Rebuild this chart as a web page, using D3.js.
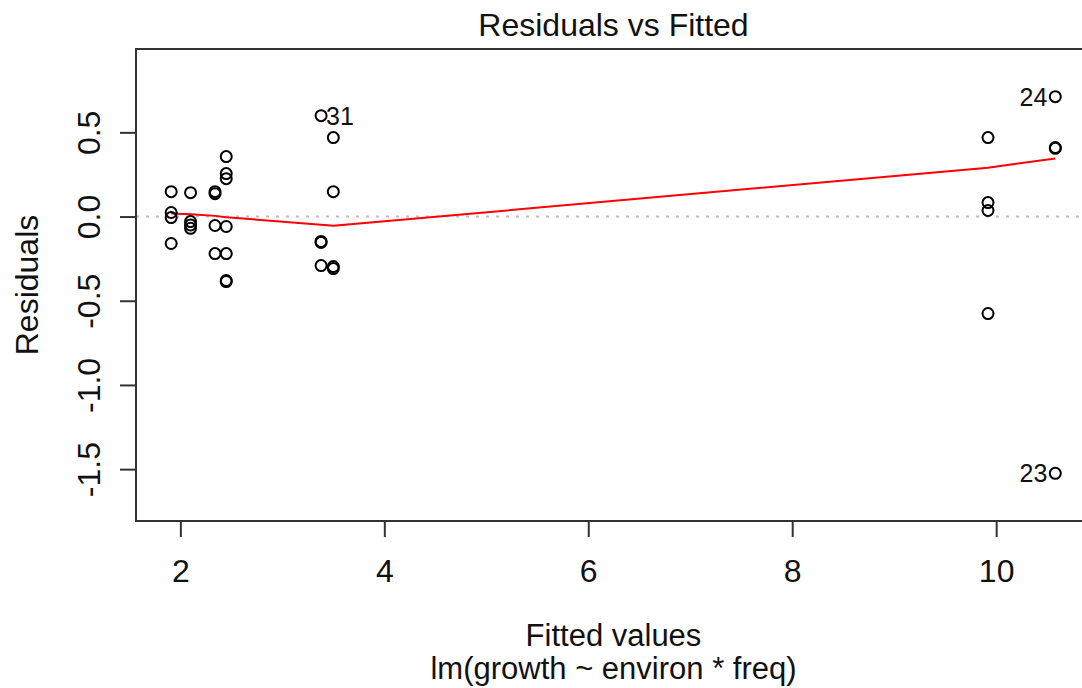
<!DOCTYPE html>
<html>
<head>
<meta charset="utf-8">
<script src="https://cdn.jsdelivr.net/npm/d3@7"></script>
<style>
  body { margin: 0; background: white; }
  text { font-family: "Liberation Sans", Arial, Helvetica, sans-serif; fill: #111; }
</style>
</head>
<body>
<script>
// fitted values and residuals
const fitted = [
  1.91, 1.91, 1.91, 1.91,
  2.10, 2.10, 2.10, 2.10,
  2.34, 2.34, 2.34, 2.34,
  2.45, 2.45, 2.45, 2.45, 2.45, 2.45, 2.45,
  3.38, 3.38, 3.38, 3.38,
  3.50, 3.50, 3.50, 3.50,
  9.92, 9.92, 9.92, 9.92,
  10.58, 10.58, 10.58, 10.58
];
const residuals = [
  0.148, 0.024, -0.006, -0.16,
  0.142, -0.03, -0.05, -0.07,
  0.148, 0.136, -0.053, -0.22,
  0.356, 0.255, 0.225, -0.059, -0.22, -0.386, -0.38,
  0.599, -0.148, -0.154, -0.291,
  0.469, 0.148, -0.297, -0.309,
  0.469, 0.083, 0.036, -0.576,
  0.712, 0.41, 0.405, -1.525
];
// labelled observations: position in arrays above, and their ids
const labelIndex = [19, 31, 34];
const labelText = ["31", "24", "23"];

// smoother (red line)
const smoothX = [1.91, 2.10, 2.34, 2.45, 3.38, 3.50, 9.92, 10.58];
const smoothY = [0.018, 0.014, 0.004, -0.004, -0.048, -0.055, 0.29, 0.345];

const xTicks = [2, 4, 6, 8, 10];
const yTicks = [-1.5, -1.0, -0.5, 0.0, 0.5];

const title = "Residuals vs Fitted";
const xLabel = "Fitted values";
const subLabel = "lm(growth ~ environ * freq)";
const yLabel = "Residuals";

const width = 1082;
const height = 688;
const plotLeft = 136, plotRight = 1091, plotTop = 49, plotBottom = 521;

const svg = d3.select("body").append("svg")
  .attr("width", width)
  .attr("height", height);

svg.append("rect").attr("width", width).attr("height", height).attr("fill", "white");

const x = d3.scaleLinear().domain([1.565, 10.93]).range([plotLeft, plotRight]);
const y = d3.scaleLinear().domain([-1.808, 0.995]).range([plotBottom, plotTop]);

// zero reference line
svg.append("line")
  .attr("x1", plotLeft).attr("x2", plotRight)
  .attr("y1", y(0)).attr("y2", y(0))
  .attr("stroke", "#bebebe")
  .attr("stroke-width", 2)
  .attr("stroke-dasharray", "3,7");

// box
svg.append("rect")
  .attr("x", plotLeft).attr("y", plotTop)
  .attr("width", plotRight - plotLeft).attr("height", plotBottom - plotTop)
  .attr("fill", "none")
  .attr("stroke", "#333")
  .attr("stroke-width", 2);

// x axis
const xAxis = d3.axisBottom(x).tickValues(xTicks).tickSize(16).tickPadding(22).tickFormat(d3.format("d"));
const gx = svg.append("g").attr("transform", "translate(0," + plotBottom + ")").call(xAxis);
gx.select(".domain").remove();
gx.attr("font-family", null);
gx.selectAll(".tick line").attr("stroke", "#333").attr("stroke-width", 2);
gx.selectAll(".tick text").attr("font-size", 32).attr("fill", "#111");

// y axis, R style: plain hyphen for minus
const fmtY = d => d3.format(".1f")(d).replace("\u2212", "-");
const yAxis = d3.axisLeft(y).tickValues(yTicks).tickSize(16).tickFormat(fmtY);
const gy = svg.append("g").attr("transform", "translate(" + plotLeft + ",0)").call(yAxis);
gy.select(".domain").remove();
gy.attr("font-family", null);
gy.selectAll(".tick line").attr("stroke", "#333").attr("stroke-width", 2);
gy.selectAll(".tick text")
  .attr("font-size", 32).attr("fill", "#111")
  .attr("x", null).attr("dy", null)
  .attr("text-anchor", "middle")
  .attr("transform", "translate(-36,0) rotate(-90)");

// smoother
svg.append("path")
  .datum(smoothX.map((v, i) => [v, smoothY[i]]))
  .attr("fill", "none")
  .attr("stroke", "red")
  .attr("stroke-width", 2)
  .attr("d", d3.line().x(d => x(d[0])).y(d => y(d[1])));

// points
svg.append("g").selectAll("circle")
  .data(fitted.map((v, i) => [v, residuals[i]]))
  .join("circle")
  .attr("cx", d => x(d[0]))
  .attr("cy", d => y(d[1]))
  .attr("r", 5.5)
  .attr("fill", "none")
  .attr("stroke", "black")
  .attr("stroke-width", 2);

// point labels: left of the point if it lies in the right half
const mid = (d3.min(fitted) + d3.max(fitted)) / 2;
svg.append("g").selectAll("text")
  .data(labelIndex)
  .join("text")
  .attr("x", i => fitted[i] > mid ? x(fitted[i]) - 8 : x(fitted[i]) + 5)
  .attr("y", i => y(residuals[i]) + 9)
  .attr("text-anchor", i => fitted[i] > mid ? "end" : "start")
  .attr("font-size", 25)
  .text((d, k) => labelText[k]);

// titles
svg.append("text")
  .attr("x", (plotLeft + plotRight) / 2).attr("y", 36)
  .attr("text-anchor", "middle").attr("font-size", 32)
  .text(title);

svg.append("text")
  .attr("x", (plotLeft + plotRight) / 2).attr("y", 646)
  .attr("text-anchor", "middle").attr("font-size", 31)
  .text(xLabel);

svg.append("text")
  .attr("x", (plotLeft + plotRight) / 2).attr("y", 679)
  .attr("text-anchor", "middle").attr("font-size", 31)
  .text(subLabel);

svg.append("text")
  .attr("transform", "translate(38," + (plotTop + plotBottom) / 2 + ") rotate(-90)")
  .attr("text-anchor", "middle").attr("font-size", 32)
  .text(yLabel);
</script>
</body>
</html>
